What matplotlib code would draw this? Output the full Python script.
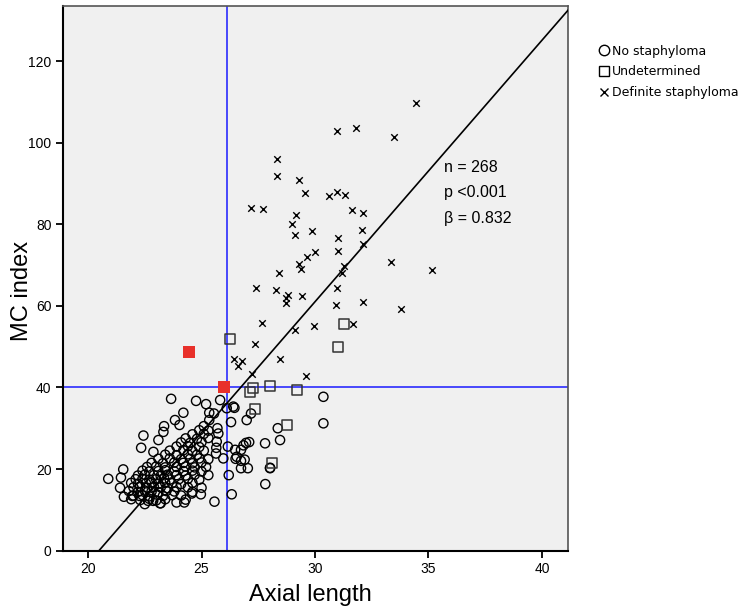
import numpy as np
import matplotlib
matplotlib.use("Agg")
import matplotlib.pyplot as plt
from matplotlib.lines import Line2D

plt.rcParams['font.family'] = ['Liberation Sans', 'DejaVu Sans']

# definite staphyloma (x markers)
def_x = [34.44, 30.96, 31.81, 33.48, 28.34, 28.31, 29.28, 29.55, 30.61, 30.99,
         31.33, 27.17, 27.70, 31.63, 32.13, 29.18, 28.98, 32.06, 29.87, 29.11,
         31.02, 32.12, 31.03, 30.00, 29.66, 29.31, 29.39, 31.28, 31.19, 33.35,
         35.15, 28.43, 27.40, 28.28, 28.83, 28.72, 28.72, 29.42, 30.97, 30.94,
         32.13, 33.79, 27.68, 29.96, 29.12, 31.69, 27.37, 26.45, 26.62, 26.80,
         28.46, 27.24, 29.59]
def_y = [109.7, 102.8, 103.7, 101.3, 96.05, 91.8, 90.8, 87.6, 86.9, 88.0,
         87.2, 84.1, 83.8, 83.6, 82.7, 82.3, 80.0, 78.7, 78.3, 77.3,
         76.6, 75.1, 73.4, 73.2, 72.0, 70.2, 69.0, 69.8, 68.0, 70.7,
         68.8, 68.1, 64.4, 63.9, 62.6, 62.0, 60.6, 62.5, 64.4, 60.2,
         60.9, 59.2, 55.9, 55.0, 54.1, 55.5, 50.7, 46.9, 45.3, 46.5,
         47.0, 43.3, 42.9]

# undetermined (squares)
und_x = [31.28, 31.02, 26.26, 27.26, 27.14, 28.03, 29.20, 27.35, 28.76, 28.11]
und_y = [55.6, 50.0, 51.8, 39.8, 38.9, 40.3, 39.4, 34.7, 30.8, 21.5]

# no staphyloma (circles)
no_x = [30.37, 30.37, 27.80, 28.46, 28.36, 26.99, 27.18, 26.96, 26.85, 27.10,
        26.48, 26.74, 26.74, 26.74, 27.04, 28.02, 27.81, 26.33, 26.30, 26.16,
        26.40, 26.11, 26.45, 25.74, 25.67, 25.64, 25.96, 25.82, 25.20, 24.76,
        25.55, 25.34, 25.34, 25.57, 24.97, 24.57, 23.66, 24.20, 23.83, 24.03,
        23.35, 23.32, 23.10, 22.44, 22.34, 22.88, 21.55, 21.45, 20.89, 21.41,
        21.58, 21.95, 24.24, 23.17, 22.65, 22.87, 22.27, 25.65, 25.70, 26.50,
        26.90, 28.02, 26.20, 26.55,
        22.5, 23.2, 23.9,
        21.9, 22.3, 22.7, 23.0, 23.4, 24.3,
        22.0, 22.4, 22.7, 23.05, 23.3, 23.7, 24.1,
        21.8, 22.2, 22.5, 22.8, 23.1, 23.45, 23.8, 24.6,
        22.0, 22.3, 22.6, 22.9, 23.2, 23.5, 23.9, 24.4, 25.0,
        21.9, 22.2, 22.55, 22.8, 23.1, 23.4, 23.7, 24.1, 24.6,
        22.1, 22.4, 22.7, 23.0, 23.35, 23.6, 24.0, 24.4, 24.9,
        22.2, 22.5, 22.9, 23.2, 23.5, 23.9, 24.3, 24.7, 25.3,
        22.4, 22.7, 23.1, 23.4, 23.8, 24.2, 24.6, 25.0,
        22.6, 23.0, 23.4, 23.9, 24.3, 24.7, 25.2,
        22.8, 23.3, 23.8, 24.2, 24.6, 25.0,
        23.1, 23.6, 24.1, 24.5, 24.9, 25.3,
        23.4, 23.9, 24.4, 24.8,
        23.6, 24.2, 24.6, 25.1,
        23.9, 24.4, 24.9,
        24.1, 24.5, 25.0,
        24.3, 24.8, 25.3,
        24.6, 25.1,
        24.9, 25.3,
        25.1]
no_y = [37.7, 31.2, 26.3, 27.1, 30.0, 32.0, 33.6, 26.4, 25.8, 26.6,
        24.7, 24.7, 22.0, 20.2, 20.2, 20.2, 16.3, 13.8, 31.5, 25.5,
        35.3, 34.9, 35.0, 28.7, 26.7, 23.8, 22.6, 36.9, 35.9, 36.7,
        33.6, 33.8, 32.0, 12.0, 13.8, 14.0, 37.2, 33.8, 32.0, 30.8,
        30.5, 29.1, 27.1, 28.2, 25.2, 24.2, 19.9, 17.9, 17.6, 15.4,
        13.2, 13.4, 11.8, 11.6, 12.2, 12.2, 13.4, 25.2, 30.0, 22.5,
        22.3, 20.3, 18.5, 23.0,
        11.4, 11.6, 11.8,
        12.6, 12.4, 12.7, 12.3, 12.6, 12.5,
        13.5, 13.6, 13.3, 13.7, 13.4, 13.6, 13.5,
        14.6, 14.4, 14.7, 14.5, 14.3, 14.6, 14.5, 14.4,
        15.5, 15.7, 15.4, 15.6, 15.5, 15.3, 15.6, 15.5, 15.4,
        16.6, 16.4, 16.5, 16.7, 16.4, 16.6, 16.5, 16.3, 16.6,
        17.5, 17.6, 17.4, 17.5, 17.7, 17.4, 17.5, 17.6, 17.4,
        18.4, 18.6, 18.5, 18.3, 18.6, 18.5, 18.4, 18.6, 18.5,
        19.6, 19.4, 19.5, 19.7, 19.4, 19.5, 19.6, 19.4,
        20.5, 20.6, 20.4, 20.5, 20.6, 20.4, 20.5,
        21.5, 21.4, 21.6, 21.5, 21.4, 21.6,
        22.5, 22.6, 22.4, 22.5, 22.6, 22.4,
        23.5, 23.4, 23.6, 23.5,
        24.5, 24.6, 24.4, 24.5,
        25.5, 25.6, 25.4,
        26.5, 26.4, 26.6,
        27.5, 27.4, 27.6,
        28.5, 28.6,
        29.5, 29.4,
        30.5]

# highlighted cases (red squares)
red_x = [24.46, 25.97]
red_y = [48.75, 40.0]

# fit line and reference lines
fit_slope = 6.41
fit_icpt = -131.3
ref_al = 26.13
ref_mc = 40

xlim = (18.91, 41.16)
ylim = (0, 133.5)

fig = plt.figure(figsize=(7.44, 6.13), dpi=100)
ax = fig.add_axes([0.0851, 0.1018, 0.6787, 0.8884])
ax.set_facecolor('#f0f0f0')

ax.scatter(no_x, no_y, s=44, facecolors='none', edgecolors='black', linewidths=1.0, zorder=3)
ax.scatter(und_x, und_y, s=52, marker='s', facecolors='none', edgecolors='#333333', linewidths=1.1, zorder=3)
ax.scatter(def_x, def_y, s=22, marker='x', color='black', linewidths=1.0, zorder=3)

xx = np.array(xlim)
ax.plot(xx, fit_slope * xx + fit_icpt, color='black', lw=1.2, zorder=4)
ax.axvline(ref_al, color='#1a1aff', lw=1.1, zorder=2)
ax.axhline(ref_mc, color='#1a1aff', lw=1.1, zorder=2)

ax.scatter(red_x, red_y, s=70, marker='s', color='#e8302a', zorder=5, linewidths=0)

ax.set_xlim(xlim)
ax.set_ylim(ylim)
ax.set_xticks([20, 25, 30, 35, 40])
ax.set_yticks([0, 20, 40, 60, 80, 100, 120])
ax.tick_params(direction='out', length=5, width=1.3, labelsize=10, color='black')
for side in ['left', 'bottom']:
    ax.spines[side].set_linewidth(1.5)
for side in ['top', 'right']:
    ax.spines[side].set_linewidth(1.2)
    ax.spines[side].set_color('#555555')

ax.set_xlabel('Axial length', fontsize=17)
ax.xaxis.set_label_coords(0.489, -0.062)
ax.set_ylabel('MC index', fontsize=17)
ax.yaxis.set_label_coords(-0.060, 0.476)

ax.text(0.754, 0.704, 'n = 268', transform=ax.transAxes, fontsize=11.5, va='center')
ax.text(0.754, 0.657, 'p <0.001', transform=ax.transAxes, fontsize=11.5, va='center')
ax.text(0.754, 0.609, 'β = 0.832', transform=ax.transAxes, fontsize=11.5, va='center')

handles = [
    Line2D([], [], ls='none', marker='o', mfc='none', mec='black', ms=7.5, mew=1.0),
    Line2D([], [], ls='none', marker='s', mfc='none', mec='black', ms=7.5, mew=1.0),
    Line2D([], [], ls='none', marker='x', color='black', ms=6, mew=1.0),
]
ax.legend(handles, ['No staphyloma', 'Undetermined', 'Definite staphyloma'],
          loc='upper left', bbox_to_anchor=(0.803, 0.927), bbox_transform=fig.transFigure,
          frameon=False, handletextpad=0.15, handlelength=1.0, labelspacing=0.62,
          borderaxespad=0, borderpad=0, prop={'family': 'DejaVu Sans', 'size': 9})

fig.savefig('out.png', dpi=100)
